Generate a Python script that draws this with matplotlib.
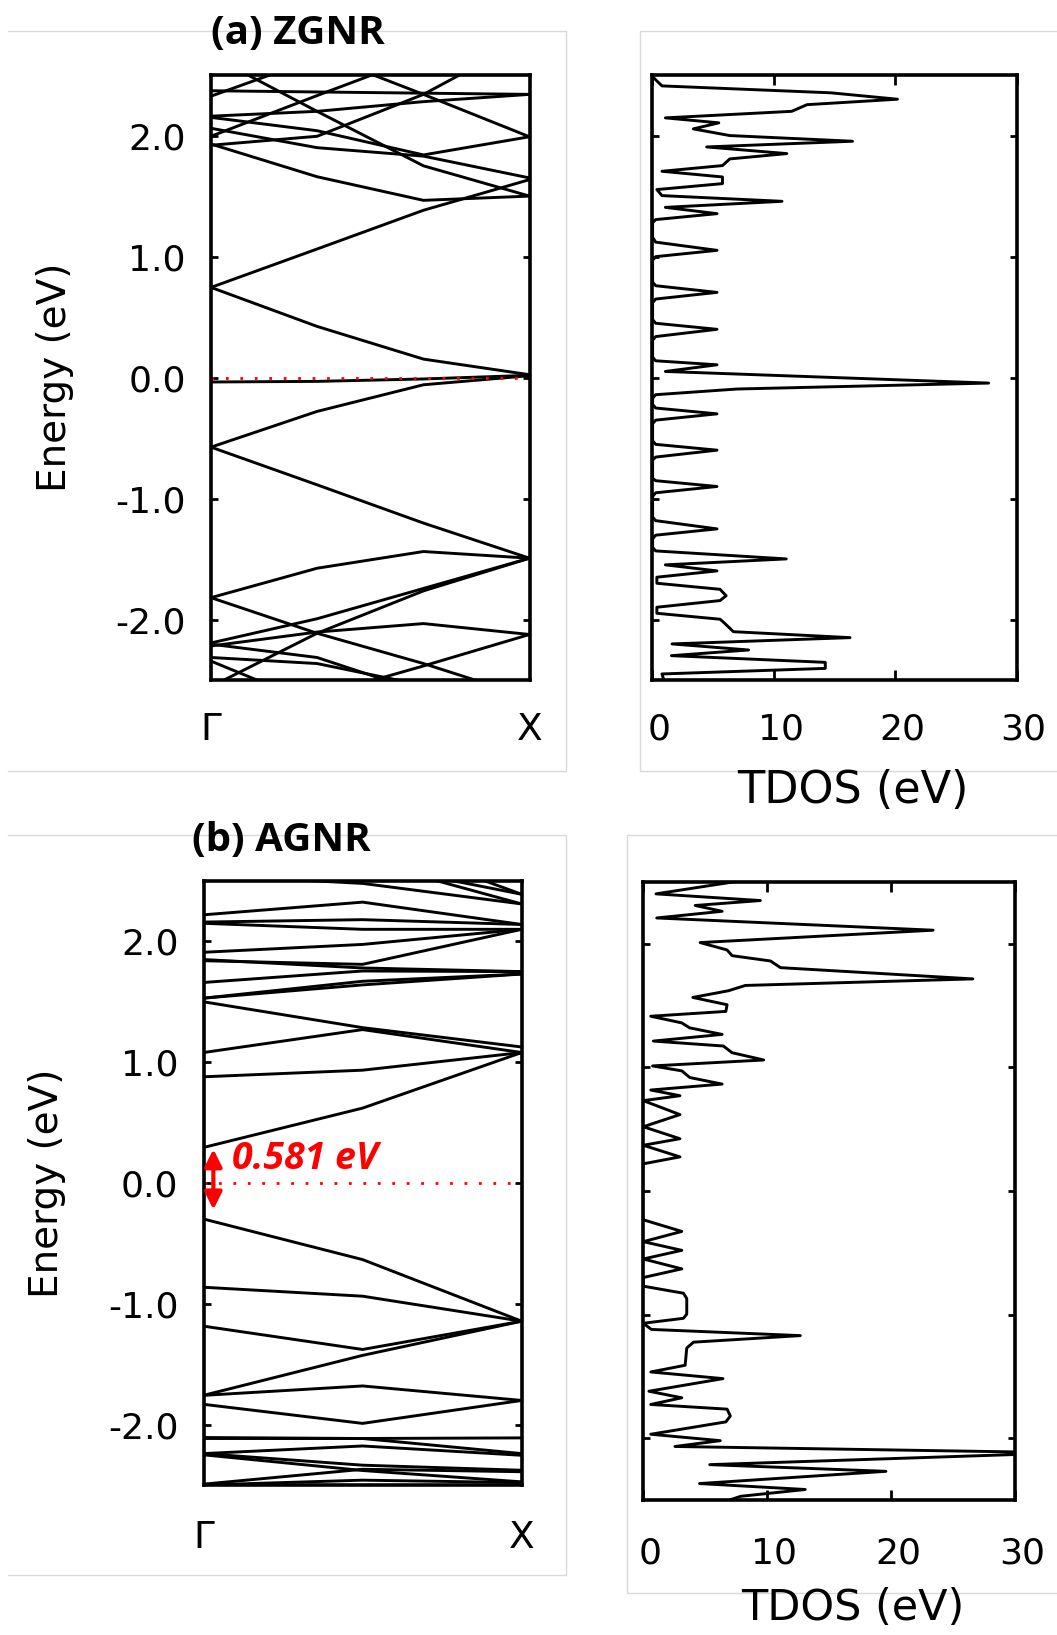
import matplotlib.pyplot as plt
from matplotlib.lines import Line2D
from matplotlib.transforms import ScaledTranslation

W, H = 1057, 1635

# ---- ZGNR band structure (k points: Gamma, 1/3, 2/3, X) ----
zgnr_k = [0.0, 0.333, 0.667, 1.0]
zgnr_bands = [
    [1.994, 2.33, 2.66, 2.80],
    [2.90, 2.68, 2.34, 1.99],
    [1.92, 1.994, 2.34, 2.81],
    [2.66, 2.20, 1.75, 1.50],
    [2.325, 2.64, 2.80, 2.90],
    [2.37, 2.36, 2.35, 2.34],
    [2.16, 2.20, 2.28, 2.34],
    [2.15, 2.04, 1.84, 1.99],
    [2.06, 1.90, 1.83, 1.65],
    [1.93, 1.66, 1.465, 1.50],
    [0.746, 1.063, 1.383, 1.636],
    [0.746, 0.424, 0.154, 0.025],
    [-0.035, -0.03, -0.01, 0.02],
    [-0.573, -0.278, -0.058, 0.017],
    [-0.573, -0.884, -1.20, -1.49],
    [-1.816, -1.573, -1.435, -1.49],
    [-1.816, -2.11, -2.36, -2.64],
    [-2.19, -1.99, -1.74, -1.49],
    [-2.215, -2.10, -2.03, -2.12],
    [-2.90, -2.63, -2.38, -2.12],
    [-2.55, -2.11, -1.76, -1.49],
    [-2.31, -2.36, -2.54, -2.65],
    [-2.34, -2.70, -2.90, -3.00],
    [-2.20, -2.31, -2.60, -2.90],
]

# ---- AGNR band structure (k points: Gamma, mid, X) ----
agnr_k = [0.0, 0.5, 1.0]
agnr_bands = [
    [2.55, 2.48, 2.31],
    [2.70, 2.67, 2.31],
    [2.70, 2.65, 2.39],
    [2.90, 2.87, 2.39],
    [2.22, 2.325, 2.14],
    [2.16, 2.18, 2.14],
    [2.15, 2.10, 2.10],
    [1.91, 1.975, 2.10],
    [1.84, 1.81, 2.10],
    [1.85, 1.78, 1.75],
    [1.66, 1.755, 1.75],
    [1.53, 1.67, 1.73],
    [1.53, 1.64, 1.73],
    [1.50, 1.286, 1.126],
    [1.08, 1.27, 1.08],
    [0.879, 0.934, 1.08],
    [0.294, 0.62, 1.08],
    [-0.298, -0.634, -1.144],
    [-0.863, -0.937, -1.144],
    [-1.185, -1.378, -1.144],
    [-1.758, -1.427, -1.144],
    [-1.758, -1.68, -1.80],
    [-1.832, -1.99, -1.80],
    [-2.107, -2.115, -2.24],
    [-2.115, -2.115, -2.11],
    [-2.24, -2.177, -2.254],
    [-2.24, -2.336, -2.378],
    [-2.25, -2.38, -2.474],
    [-2.493, -2.37, -2.39],
    [-2.50, -2.46, -2.48],
]

# ---- TDOS curves (energy, DOS) ----
tdos_a_E = [2.49, 2.41, 2.353, 2.30, 2.255, 2.20, 2.146, 2.105, 2.055, 2.0,
            1.953, 1.906, 1.851, 1.807, 1.752, 1.705, 1.658, 1.603, 1.554, 1.504,
            1.457, 1.407, 1.355, 1.306, 1.28, 1.16, 1.12, 1.052, 1.0, 0.97,
            0.79, 0.76, 0.705, 0.65, 0.62, 0.48, 0.45, 0.40, 0.34, 0.31,
            0.17, 0.14, 0.107, 0.052, -0.044, -0.093, -0.14, -0.17, -0.22, -0.25,
            -0.298, -0.35, -0.38, -0.52, -0.55, -0.598, -0.655, -0.68, -0.83, -0.85,
            -0.898, -0.95, -0.98, -1.15, -1.18, -1.248, -1.30, -1.33, -1.40, -1.43,
            -1.496, -1.545, -1.595, -1.647, -1.697, -1.747, -1.80, -1.84, -1.895, -1.945,
            -1.994, -2.02, -2.097, -2.146, -2.198, -2.248, -2.295, -2.35, -2.40, -2.446,
            -2.49]
tdos_a_val = [0, 0.82, 14.7, 20.2, 12.76, 11.5, 1.1, 5.5, 3.4, 6.4,
              16.5, 4.5, 11.1, 6.4, 5.8, 0.82, 5.8, 5.8, 0.4, 0.82,
              10.7, 1.1, 5.35, 0.3, 0.05, 0.05, 0.3, 5.35, 0.3, 0.05,
              0.05, 0.3, 5.35, 0.3, 0.05, 0.05, 0.3, 5.35, 0.3, 0.05,
              0.05, 0.3, 5.35, 1.1, 27.7, 7.0, 0.3, 0.05, 0.05, 0.3,
              5.35, 0.3, 0.05, 0.05, 0.3, 5.35, 0.3, 0.05, 0.05, 0.3,
              5.35, 0.3, 0.05, 0.05, 0.3, 5.35, 0.3, 0.05, 0.05, 0.3,
              11.05, 1.1, 5.35, 0.4, 0.4, 5.6, 6.1, 5.6, 0.4, 0.4,
              5.6, 5.9, 6.7, 16.3, 1.65, 7.95, 1.6, 14.26, 14.26, 0.82,
              0.96]

tdos_b_E = [2.55, 2.404, 2.35, 2.31, 2.263, 2.209, 2.11, 2.01, 1.95, 1.904,
            1.861, 1.807, 1.716, 1.663, 1.62, 1.566, 1.507, 1.453, 1.414, 1.36,
            1.32, 1.267, 1.213, 1.173, 1.119, 1.06, 1.012, 0.972, 0.918, 0.865,
            0.817, 0.771, 0.731, 0.618, 0.52, 0.423, 0.37, 0.276, 0.22, 0.18,
            -0.20, -0.233, -0.327, -0.41, -0.48, -0.55, -0.63, -0.70, -0.77, -0.827,
            -0.87, -0.996, -1.03, -1.07, -1.12, -1.17, -1.223, -1.27, -1.41, -1.464,
            -1.518, -1.62, -1.673, -1.727, -1.765, -1.82, -1.868, -1.968, -2.02, -2.067,
            -2.112, -2.13, -2.214, -2.268, -2.367, -2.415, -2.47, -2.50]
tdos_b_val = [10.5, 1.07, 9.48, 4.23, 6.4, 1.13, 23.4, 4.63, 6.8, 7.2,
              10.3, 11.1, 26.6, 8.27, 6.9, 4.04, 6.8, 6.7, 0.65, 3.15,
              3.78, 6.4, 0.86, 6.5, 7.2, 9.75, 0.8, 3.15, 3.8, 6.4,
              0.65, 3.0, 0.05, 3.0, 0.05, 3.0, 0.05, 3.0, 0.05, 0.0,
              0.0, 0.05, 3.15, 0.05, 3.15, 0.05, 3.15, 0.05, 0.05, 3.28,
              3.55, 3.55, 3.28, 0.05, 0.7, 12.7, 4.1, 3.55, 3.42, 0.65,
              6.47, 0.5, 3.15, 0.65, 6.8, 7.06, 6.7, 0.65, 6.25, 2.6,
              30.6, 30.6, 5.4, 19.6, 4.58, 13.1, 7.9, 7.0]

energy_ticks = [-2, -1, 0, 1, 2]
energy_ticklabels = ['-2.0', '-1.0', '0.0', '1.0', '2.0']
dos_ticks = [0, 10, 20, 30]
kpath_labels = ['Γ', 'X']

LW = 2.1
SPINE = 2.6
GRAY = '#d9d9d9'

fig = plt.figure(figsize=(W / 100, H / 100), dpi=100)


def box(l, t, r, b):
    return [l / W, 1 - b / H, (r - l) / W, (b - t) / H]


def fline(xs, ys):
    fig.add_artist(Line2D([x / W for x in xs], [1 - y / H for y in ys],
                          transform=fig.transFigure, color=GRAY, lw=1.0))


# light picture frames behind the panels
fline([8, 566, 566, 8], [31, 31, 771, 771])
fline([1057, 640, 640, 1057], [31, 31, 771, 771])
fline([8, 566, 566, 8], [835, 835, 1575, 1575])
fline([1057, 627, 627, 1057], [835, 835, 1593, 1593])


def band_axes(rect, k, bands, xpad):
    ax = fig.add_axes(rect)
    for b in bands:
        ax.plot(k, b, color='black', lw=LW)
    ax.axhline(0, color='red', lw=2.0, ls=(0, (1, 4.2)))
    ax.set_xlim(0, 1)
    ax.set_ylim(-2.5, 2.5)
    ax.set_yticks(energy_ticks)
    ax.set_yticklabels(energy_ticklabels)
    ax.set_xticks([0, 1])
    ax.set_xticklabels(kpath_labels)
    ax.tick_params(axis='y', direction='in', left=True, right=True,
                   length=5, width=2, labelsize=26, pad=18)
    ax.tick_params(axis='x', length=0, labelsize=27, pad=xpad)
    for s in ax.spines.values():
        s.set_linewidth(SPINE)
    ax.set_ylabel('Energy (eV)', fontsize=28, labelpad=30)
    return ax


def dos_axes(rect, E, val, xpad):
    ax = fig.add_axes(rect)
    ax.plot(val, E, color='black', lw=LW)
    ax.set_xlim(0, 30)
    ax.set_ylim(-2.5, 2.5)
    ax.set_xticks(dos_ticks)
    ax.set_yticks(energy_ticks)
    ax.set_yticklabels([])
    ax.tick_params(axis='x', direction='in', top=True, bottom=True,
                   length=7, width=2, labelsize=26, pad=xpad)
    ax.tick_params(axis='y', direction='in', left=True, right=True,
                   length=5, width=2)
    for lab in ax.get_xticklabels():
        lab.set_transform(lab.get_transform() +
                          ScaledTranslation(0.07, 0, fig.dpi_scale_trans))
    for s in ax.spines.values():
        s.set_linewidth(SPINE)
    return ax


ax1 = band_axes(box(211, 75, 529.5, 680.5), zgnr_k, zgnr_bands, 23)
ax2 = dos_axes(box(652, 75, 1016.5, 680.5), tdos_a_E, tdos_a_val, 23)
ax3 = band_axes(box(203.5, 881, 521.7, 1485), agnr_k, agnr_bands, 25)
ax4 = dos_axes(box(642.7, 882, 1015, 1500), tdos_b_E, tdos_b_val, 26)

# band gap marker
ax3.annotate('', xy=(0.031, -0.22), xytext=(0.031, 0.28),
             arrowprops=dict(arrowstyle='<|-|>', color='red', lw=3,
                             mutation_scale=26, shrinkA=0, shrinkB=0))
ax3.text(0.09, 0.2, '0.581 eV', color='red', fontsize=27, fontweight='bold',
         fontstyle='italic', family='Open Sans', va='center', ha='left')

fig.text(298 / W, 1 - 33 / H, '(a) ZGNR', fontsize=29, fontweight='bold',
         family='Open Sans', ha='center', va='center')
fig.text(281 / W, 1 - 840 / H, '(b) AGNR', fontsize=29, fontweight='bold',
         family='Open Sans', ha='center', va='center')
fig.text(853 / W, 1 - 790 / H, 'TDOS (eV)', fontsize=32, ha='center', va='center')
fig.text(853 / W, 1 - 1608 / H, 'TDOS (eV)', fontsize=31, ha='center', va='center')

fig.savefig('out.png', dpi=100)
